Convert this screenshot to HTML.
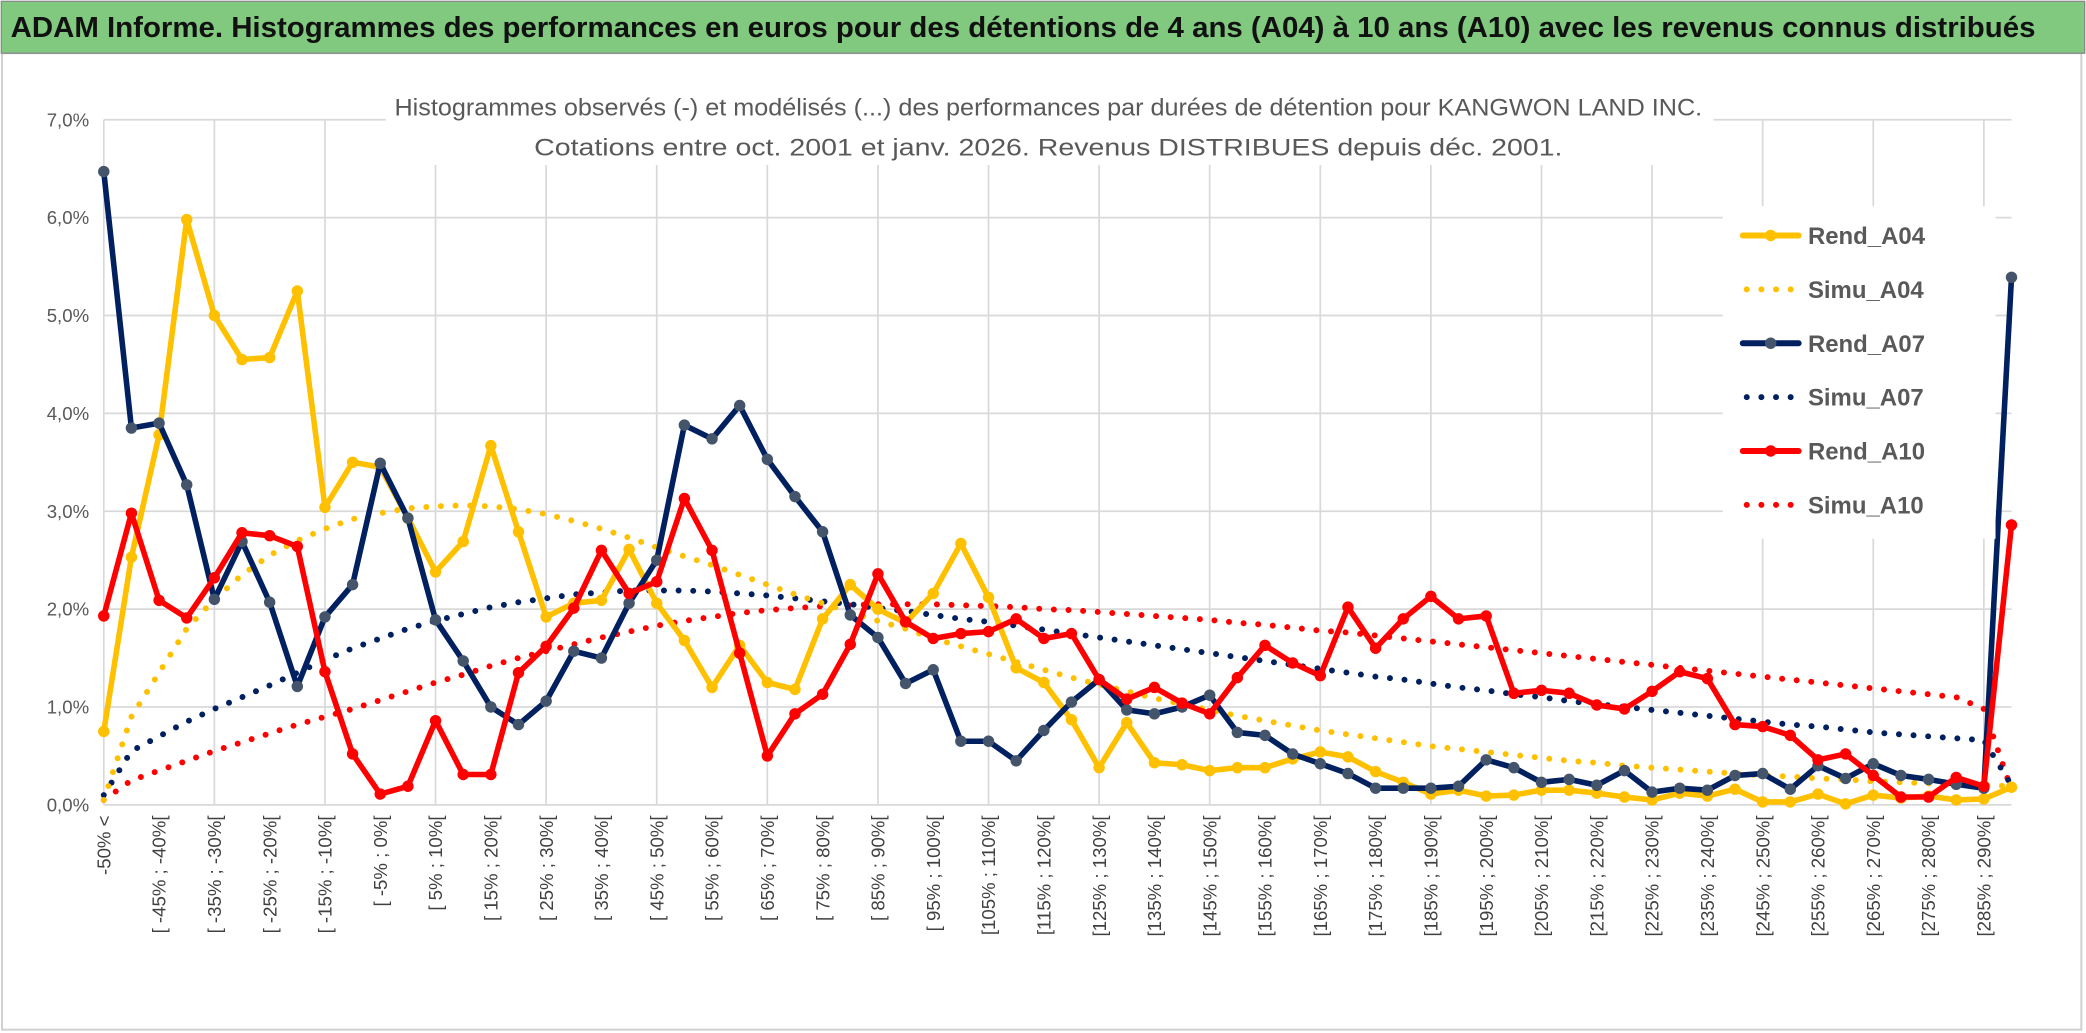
<!DOCTYPE html>
<html><head><meta charset="utf-8">
<style>
html,body{margin:0;padding:0;background:#fff;}
svg{display:block;font-family:"Liberation Sans",sans-serif;}
</style></head>
<body>
<svg id="chart" width="2086" height="1033" viewBox="0 0 1568 776.5" preserveAspectRatio="none" xmlns="http://www.w3.org/2000/svg">
  <rect x="0" y="0" width="1568" height="776.5" fill="#fff"/>
  <rect x="1.5" y="40" width="1563" height="734" fill="#fff" stroke="#d0d0d0" stroke-width="1.5"/>
  <rect x="1" y="1" width="1566" height="39" fill="#80c97f" stroke="#8a8a8a" stroke-width="1"/>
  <text x="8" y="28" font-size="21.5" font-weight="bold" fill="#111" textLength="1522" lengthAdjust="spacingAndGlyphs">ADAM Informe. Histogrammes des performances en euros pour des détentions de 4 ans (A04) à 10 ans (A10) avec les revenus connus distribués</text>
  <g id="grid"></g>
  <g id="yaxis"></g>
  <g id="xaxis"></g>
  <rect x="290" y="62" width="998" height="62" fill="#fff"/>
  <text x="788" y="87" font-size="18" fill="#595959" text-anchor="middle" textLength="983" lengthAdjust="spacingAndGlyphs">Histogrammes observés (-) et modélisés (...) des performances par durées de détention pour KANGWON LAND INC.</text>
  <text x="788" y="117" font-size="18" fill="#595959" text-anchor="middle" textLength="773" lengthAdjust="spacingAndGlyphs">Cotations entre oct. 2001 et janv. 2026. Revenus DISTRIBUES depuis déc. 2001.</text>
  <g id="series"></g>
  <g id="legend"></g>
</svg>
<script>
const rendA04 = [0.75,2.53,3.78,5.98,5.0,4.55,4.57,5.25,3.04,3.5,3.45,2.93,2.38,2.69,3.67,2.79,1.92,2.06,2.09,2.61,2.06,1.68,1.2,1.63,1.25,1.18,1.9,2.25,2.0,1.86,2.16,2.67,2.12,1.4,1.25,0.87,0.38,0.84,0.43,0.41,0.35,0.38,0.38,0.47,0.54,0.49,0.34,0.23,0.11,0.15,0.09,0.1,0.15,0.15,0.12,0.08,0.05,0.12,0.09,0.16,0.03,0.03,0.11,0.01,0.1,0.07,0.09,0.05,0.06,0.18];
const rendA07 = [6.47,3.85,3.9,3.27,2.1,2.69,2.07,1.21,1.92,2.25,3.49,2.93,1.89,1.47,1.0,0.82,1.06,1.57,1.5,2.06,2.5,3.88,3.74,4.08,3.53,3.15,2.79,1.94,1.71,1.24,1.38,0.65,0.65,0.45,0.76,1.05,1.28,0.97,0.93,1.0,1.12,0.74,0.71,0.52,0.42,0.32,0.17,0.17,0.17,0.19,0.46,0.38,0.23,0.26,0.2,0.35,0.13,0.17,0.15,0.3,0.32,0.16,0.4,0.27,0.42,0.3,0.26,0.21,0.17,5.39];
const rendA10 = [1.93,2.98,2.09,1.91,2.32,2.78,2.75,2.64,1.36,0.52,0.11,0.19,0.86,0.31,0.31,1.35,1.62,2.01,2.6,2.16,2.28,3.13,2.6,1.55,0.5,0.93,1.13,1.64,2.36,1.87,1.7,1.75,1.77,1.9,1.7,1.75,1.28,1.08,1.2,1.04,0.93,1.3,1.63,1.45,1.32,2.02,1.6,1.9,2.13,1.9,1.93,1.14,1.17,1.14,1.02,0.98,1.16,1.36,1.29,0.82,0.8,0.71,0.46,0.52,0.3,0.08,0.08,0.28,0.19,2.86];
const simuA04 = [0.05,0.9,1.35,1.8,2.1,2.35,2.55,2.7,2.82,2.92,2.98,3.03,3.05,3.06,3.05,3.02,2.97,2.9,2.82,2.73,2.63,2.54,2.45,2.35,2.25,2.15,2.06,1.97,1.88,1.8,1.7,1.62,1.54,1.46,1.38,1.3,1.23,1.16,1.09,1.03,0.97,0.91,0.86,0.81,0.76,0.72,0.68,0.64,0.6,0.57,0.54,0.51,0.48,0.45,0.43,0.4,0.38,0.36,0.34,0.32,0.3,0.29,0.27,0.26,0.24,0.23,0.22,0.21,0.2,0.19];
const simuA07 = [0.1,0.55,0.7,0.85,0.98,1.1,1.22,1.35,1.48,1.6,1.7,1.8,1.88,1.95,2.02,2.07,2.11,2.15,2.17,2.19,2.19,2.19,2.18,2.16,2.14,2.11,2.08,2.05,2.01,1.98,1.94,1.9,1.87,1.83,1.79,1.75,1.71,1.67,1.63,1.59,1.55,1.51,1.47,1.43,1.39,1.35,1.31,1.28,1.24,1.2,1.17,1.13,1.1,1.06,1.03,1.0,0.97,0.94,0.91,0.88,0.85,0.82,0.8,0.77,0.74,0.72,0.7,0.68,0.66,0.2];
const simuA10 = [0.05,0.25,0.35,0.45,0.55,0.64,0.73,0.82,0.9,0.98,1.07,1.16,1.25,1.33,1.42,1.5,1.57,1.64,1.71,1.77,1.83,1.88,1.92,1.96,1.99,2.01,2.03,2.04,2.05,2.05,2.05,2.04,2.03,2.02,2.0,1.99,1.97,1.95,1.93,1.91,1.89,1.86,1.84,1.81,1.78,1.76,1.73,1.7,1.67,1.64,1.61,1.58,1.55,1.52,1.49,1.46,1.43,1.4,1.37,1.34,1.31,1.28,1.25,1.22,1.19,1.16,1.13,1.1,0.98,0.15];
const yTicks = [0,1,2,3,4,5,6,7];
const yTickLabels = ["0,0%","1,0%","2,0%","3,0%","4,0%","5,0%","6,0%","7,0%"];
const binLows = [];
for (let i = 1; i < 70; i++) binLows.push(-50 + 5 * (i - 1));
const categories = ["-50% <"].concat(binLows.map(l => (l >= 100 ? "[" : "[ ") + l + "% ; " + (l + 5) + "%["));
const legendNames = ["Rend_A04","Simu_A04","Rend_A07","Simu_A07","Rend_A10","Simu_A10"];

const NS = "http://www.w3.org/2000/svg";
const X0 = 78, X1 = 1512, Y0 = 605, Y1 = 90, YMAX = 7;
const n = categories.length;
function xPos(i){ return X0 + (X1 - X0) * i / (n - 1); }
function yPos(v){ return Y0 - (Y0 - Y1) * v / YMAX; }
function mk(tag, attrs, parent){ const e = document.createElementNS(NS, tag); for (const k in attrs) e.setAttribute(k, attrs[k]); parent.appendChild(e); return e; }

const grid = document.getElementById('grid');
yTicks.forEach((t, k) => {
  const l = mk('line', {x1: X0, x2: X1, y1: yPos(t), y2: yPos(t), stroke: '#d9d9d9', 'stroke-width': 1.3}, grid);
  
  
});
for (let i = 0; i < n; i += 4) {
  const l = mk('line', {x1: xPos(i), x2: xPos(i), y1: Y1, y2: Y0, stroke: '#d9d9d9', 'stroke-width': 1.3}, grid);
  
  
}
const yaxis = document.getElementById('yaxis');
yTicks.forEach((t, k) => {
  const tx = mk('text', {x: 67, y: yPos(t) + 5, 'font-size': 14, fill: '#595959', 'text-anchor': 'end'}, yaxis);
  tx.textContent = yTickLabels[k];
  
  
});
const xaxis = document.getElementById('xaxis');
for (let i = 0; i < n; i += 2) {
  const x = xPos(i);
  const tx = mk('text', {x: 0, y: 0, 'font-size': 14, fill: '#404040', 'text-anchor': 'end', transform: 'translate(' + (x + 5) + ',613) rotate(-90)'}, xaxis);
  tx.textContent = categories[i];
  
  
}

const series = document.getElementById('series');
function pathD(arr){ return arr.map((v, i) => (i ? 'L' : 'M') + xPos(i).toFixed(2) + ' ' + yPos(v).toFixed(2)).join(' '); }
function dotted(arr, color, name){
  const p = mk('path', {d: pathD(arr), fill: 'none', stroke: color, 'stroke-width': 4.5, 'stroke-linecap': 'round', 'stroke-linejoin': 'round', 'stroke-dasharray': '0 11'}, series);
  
  
}
function solid(arr, color, markerColor, name){
  const g = mk('g', {}, series);
  
  
  mk('path', {d: pathD(arr), fill: 'none', stroke: color, 'stroke-width': 4.2, 'stroke-linejoin': 'round'}, g);
  arr.forEach((v, i) => {
    const c = mk('circle', {cx: xPos(i), cy: yPos(v), r: 4.3, fill: markerColor}, g);
    
    
  });
}
dotted(simuA10, '#ff0000', 'simu-a10-line');
dotted(simuA07, '#002060', 'simu-a07-line');
dotted(simuA04, '#ffc000', 'simu-a04-line');
solid(rendA04, '#ffc000', '#ffc000', 'rend-a04-line');
solid(rendA07, '#002060', '#44546a', 'rend-a07-line');
solid(rendA10, '#ff0000', '#ff0000', 'rend-a10-line');

const legend = document.getElementById('legend');
mk('rect', {x: 1295, y: 155, width: 205, height: 250, fill: '#fff'}, legend);
const lColors = ['#ffc000','#ffc000','#002060','#002060','#ff0000','#ff0000'];
const lMarker = ['#ffc000',null,'#44546a',null,'#ff0000',null];
legendNames.forEach((nm, k) => {
  const y = 177 + k * 40.5;
  const g = mk('g', {}, legend);
  
  
  if (lMarker[k]) {
    mk('line', {x1: 1310, x2: 1352, y1: y, y2: y, stroke: lColors[k], 'stroke-width': 4.5, 'stroke-linecap': 'round'}, g);
    mk('circle', {cx: 1331, cy: y, r: 4.3, fill: lMarker[k]}, g);
  } else {
    mk('line', {x1: 1313, x2: 1352, y1: y, y2: y, stroke: lColors[k], 'stroke-width': 4.5, 'stroke-linecap': 'round', 'stroke-dasharray': '0 11'}, g);
  }
  const t = mk('text', {x: 1359, y: y + 6.5, 'font-size': 18, 'font-weight': 'bold', fill: '#595959'}, g);
  t.textContent = nm;
});
</script>
</body></html>
